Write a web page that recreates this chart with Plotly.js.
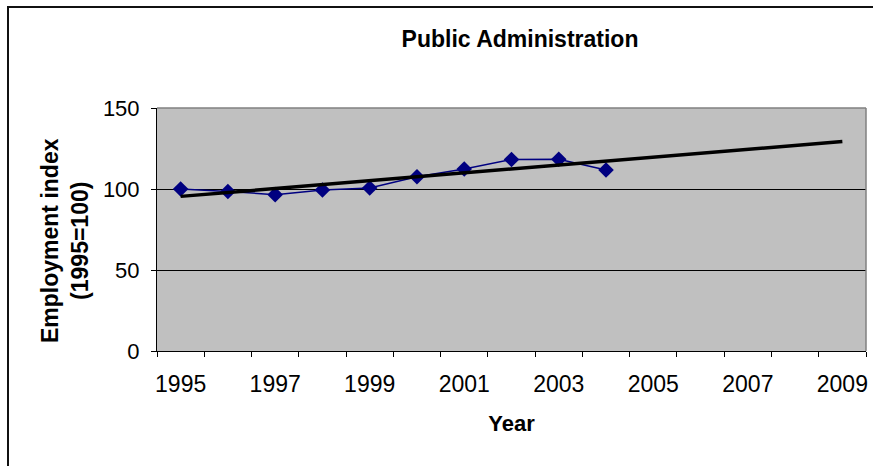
<!DOCTYPE html>
<html>
<head>
<meta charset="utf-8">
<script src="https://cdn.plot.ly/plotly-3.0.1.min.js"></script>
<style>
  html, body { margin: 0; padding: 0; background: #ffffff; overflow: hidden; }
  #wrap { position: relative; width: 873px; height: 466px; overflow: hidden; }
  #chart { width: 873px; height: 466px; }
  /* outer chart frame; it runs past the right and bottom edges */
  #frame {
    position: absolute; left: 7px; top: 6px; width: 900px; height: 500px;
    border: 2px solid #111111; box-sizing: border-box; pointer-events: none;
  }
</style>
</head>
<body>
<div id="wrap">
  <div id="chart"></div>
  <div id="frame"></div>
</div>
<script>
// Employment index for public administration (1995 = 100)
const years = [1995, 1996, 1997, 1998, 1999, 2000, 2001, 2002, 2003, 2004];
const employmentIndex = [100, 98.5, 96.5, 99.4, 100.6, 107.6, 112.3, 118.2, 118.4, 111.7];

// Trend is extended through to the end of the axis
const trendYears = [1995, 1996, 1997, 1998, 1999, 2000, 2001, 2002, 2003, 2004, 2005, 2006, 2007, 2008, 2009];
const tickYears = [1995, 1997, 1999, 2001, 2003, 2005, 2007, 2009];

// Least-squares linear fit of the index against year
function linearFit(xs, ys) {
  const n = xs.length;
  const mx = xs.reduce((a, b) => a + b, 0) / n;
  const my = ys.reduce((a, b) => a + b, 0) / n;
  let sxy = 0, sxx = 0;
  for (let i = 0; i < n; i++) {
    sxy += (xs[i] - mx) * (ys[i] - my);
    sxx += (xs[i] - mx) * (xs[i] - mx);
  }
  const slope = sxy / sxx;
  return x => my + slope * (x - mx);
}
const fit = linearFit(years, employmentIndex);
const trendValues = trendYears.map(fit);

const font = '"Liberation Sans", Arial, sans-serif';

// plot area in pixels
const W = 873, H = 466;
const PL = 157, PR = 866, PT = 108, PB = 351;
const px = v => (v - PL) / (PR - PL);
const py = v => (PB - v) / (PB - PT);

const traces = [
  {
    x: years,
    y: employmentIndex,
    type: 'scatter',
    mode: 'lines+markers',
    line: { color: '#000080', width: 1.5 },
    marker: { symbol: 'diamond', size: 12, color: '#000080' },
    showlegend: false,
    hoverinfo: 'x+y'
  },
  {
    x: [trendYears[0], trendYears[trendYears.length - 1]],
    y: [trendValues[0], trendValues[trendValues.length - 1]],
    type: 'scatter',
    mode: 'lines',
    line: { color: '#000000', width: 3.5 },
    showlegend: false,
    hoverinfo: 'skip'
  }
];

const layout = {
  width: W,
  height: H,
  margin: { l: PL, r: W - PR, t: PT, b: H - PB },
  paper_bgcolor: '#ffffff',
  plot_bgcolor: '#c0c0c0',
  font: { family: font, color: '#000000', size: 22 },
  title: {
    text: '<b>Public Administration</b>',
    font: { family: font, size: 23, color: '#000000' },
    x: 447 / W,
    xanchor: 'center',
    xref: 'paper',
    y: 1 - 39 / H,
    yanchor: 'middle'
  },
  xaxis: {
    type: 'linear',
    range: [1994.5, 2009.5],
    tickvals: tickYears,
    ticktext: tickYears.map(String),
    ticks: 'outside',
    ticklen: 6,
    tickcolor: 'rgba(0,0,0,0)',
    ticklabelstandoff: 6,
    minor: {
      tick0: 1994.5,
      dtick: 1,
      ticks: 'outside',
      ticklen: 5,
      tickcolor: '#000000',
      tickwidth: 1,
      showgrid: false
    },
    showgrid: false,
    zeroline: false,
    showline: true,
    linecolor: '#000000',
    linewidth: 1,
    tickfont: { family: font, size: 23, color: '#000000' },
    title: {
      text: '<b>Year</b>',
      font: { family: font, size: 22, color: '#000000' },
      standoff: 20
    },
    fixedrange: true
  },
  yaxis: {
    range: [0, 150],
    tickvals: [0, 50, 100, 150],
    ticks: 'outside',
    ticklen: 5,
    tickcolor: '#000000',
    ticklabelstandoff: 7,
    showgrid: true,
    gridcolor: '#000000',
    gridwidth: 1,
    zeroline: false,
    showline: true,
    linecolor: '#000000',
    linewidth: 1,
    tickfont: { family: font, size: 22, color: '#000000' },
    fixedrange: true
  },
  annotations: [
    {
      text: '<b>Employment index<br>(1995=100)</b>',
      font: { family: font, size: 23, color: '#000000' },
      textangle: -90,
      xref: 'paper', yref: 'paper',
      x: px(65), y: py(241),
      xanchor: 'center', yanchor: 'middle',
      showarrow: false,
      align: 'center'
    }
  ],
  shapes: [
    // plot-area frame: grey top and right edges
    { type: 'line', xref: 'paper', yref: 'paper', x0: 0, x1: 1, y0: 1, y1: 1,
      line: { color: '#808080', width: 1.5 }, layer: 'above' },
    { type: 'line', xref: 'paper', yref: 'paper', x0: 1, x1: 1, y0: 0, y1: 1,
      line: { color: '#808080', width: 1.5 }, layer: 'above' }
  ]
};

Plotly.newPlot('chart', traces, layout, { displayModeBar: false, staticPlot: true });
</script>
</body>
</html>
